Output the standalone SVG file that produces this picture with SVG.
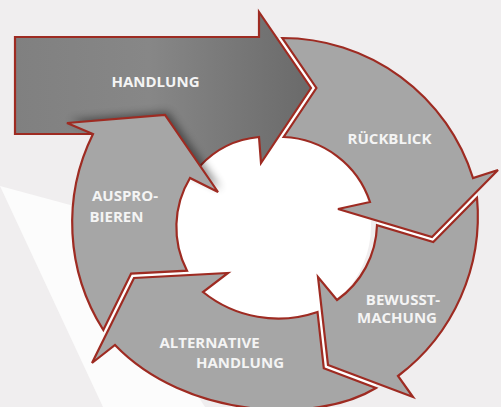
<svg xmlns="http://www.w3.org/2000/svg" width="501" height="407" viewBox="0 0 501 407">
  <defs>
    <style>
      .arrow { stroke: #9e2b22; stroke-width: 2.2; stroke-linejoin: miter; }
      .light { fill: #a6a6a6; }
      .gap { fill: none; stroke: #ffffff; stroke-width: 5; stroke-linejoin: miter; }
      .lbl { font-family: "Open Sans", "Liberation Sans", sans-serif; font-weight: 700; font-size: 15px; fill: #f4f4f4; }
    </style>
    <linearGradient id="gHand" gradientUnits="userSpaceOnUse" x1="15" y1="0" x2="311" y2="0">
      <stop offset="0" stop-color="#808080"/>
      <stop offset="0.45" stop-color="#878787"/>
      <stop offset="1" stop-color="#6a6a6a"/>
    </linearGradient>
    <filter id="blur" x="-30%" y="-30%" width="160%" height="160%">
      <feGaussianBlur stdDeviation="4"/>
    </filter>
  </defs>

  <!-- background -->
  <rect x="0" y="0" width="501" height="407" fill="#f0eeef"/>
  <polygon points="0,186 103,407 205,407 74,206" fill="#fcfcfc"/>
  <circle cx="273" cy="226" r="98" fill="#ffffff"/>

  <!-- connectors: white gaps between adjoining arrows -->
  <g id="connectors">
    <polyline class="gap" points="279.5,38 313.7,88 281,137"/>
    <polyline class="gap" points="377,223 432.6,239.5 477,194.5"/>
    <polyline class="gap" points="319.7,312 325.9,366.6 376,385.5"/>
    <polyline class="gap" points="187,273 132.6,275.8 105.8,330"/>
  </g>

  <g id="handlung">
    <path class="arrow" fill="url(#gHand)" d="M15,37 L259,37 L259,12 L311,88 L261,163 L259,137 A92,92 0 0 0 200,166 L150,140 L93,134 L15,134 Z"/>
    <text class="lbl" x="155.5" y="87" text-anchor="middle">HANDLUNG</text>
  </g>

  <g id="rueckblick">
    <path class="arrow light" d="M282.3,38 A200,200 0 0 1 473,178 L498,170 L432,237 L338,209 L370,202 A95,95 0 0 0 283.7,137 L316.4,88 Z"/>
    <text class="lbl" x="389.5" y="144" text-anchor="middle">RÜCKBLICK</text>
  </g>

  <g id="bewusstmachung">
    <path class="arrow light" d="M477,197.7 A200,200 0 0 1 398,376 L413,397 L328,365 L318,277 L337,300 A95,95 0 0 0 377,225.3 L433.3,242.1 Z"/>
    <text class="lbl" x="403" y="304.5" text-anchor="middle">BEWUSST-</text>
    <text class="lbl" x="397" y="323" text-anchor="middle">MACHUNG</text>
  </g>

  <g id="alternative">
    <path class="arrow light" d="M376,388 C315,425 185,418 115,345 L92,363 L134,278 L228,273 L203,292 A120,120 0 0 0 317.5,312 L323.8,368.2 Z"/>
    <text class="lbl" x="209.5" y="348" text-anchor="middle">ALTERNATIVE</text>
    <text class="lbl" x="240" y="368" text-anchor="middle">HANDLUNG</text>
  </g>

  <g id="ausprobieren">
    <polygon points="67,123 165,115 218,192 190,178 93,134" fill="#000" opacity="0.45" filter="url(#blur)" transform="translate(3,-3)"/>
    <path class="arrow light" d="M103.3,330 A200,200 0 0 1 93,134 L67,123 L165,115 L218,192 L190,178 A95,95 0 0 0 187,270.7 L131.1,273.6 Z"/>
    <text class="lbl" x="92" y="200.5">AUSPRO-</text>
    <text class="lbl" x="89.5" y="221.5">BIEREN</text>
  </g>
</svg>
